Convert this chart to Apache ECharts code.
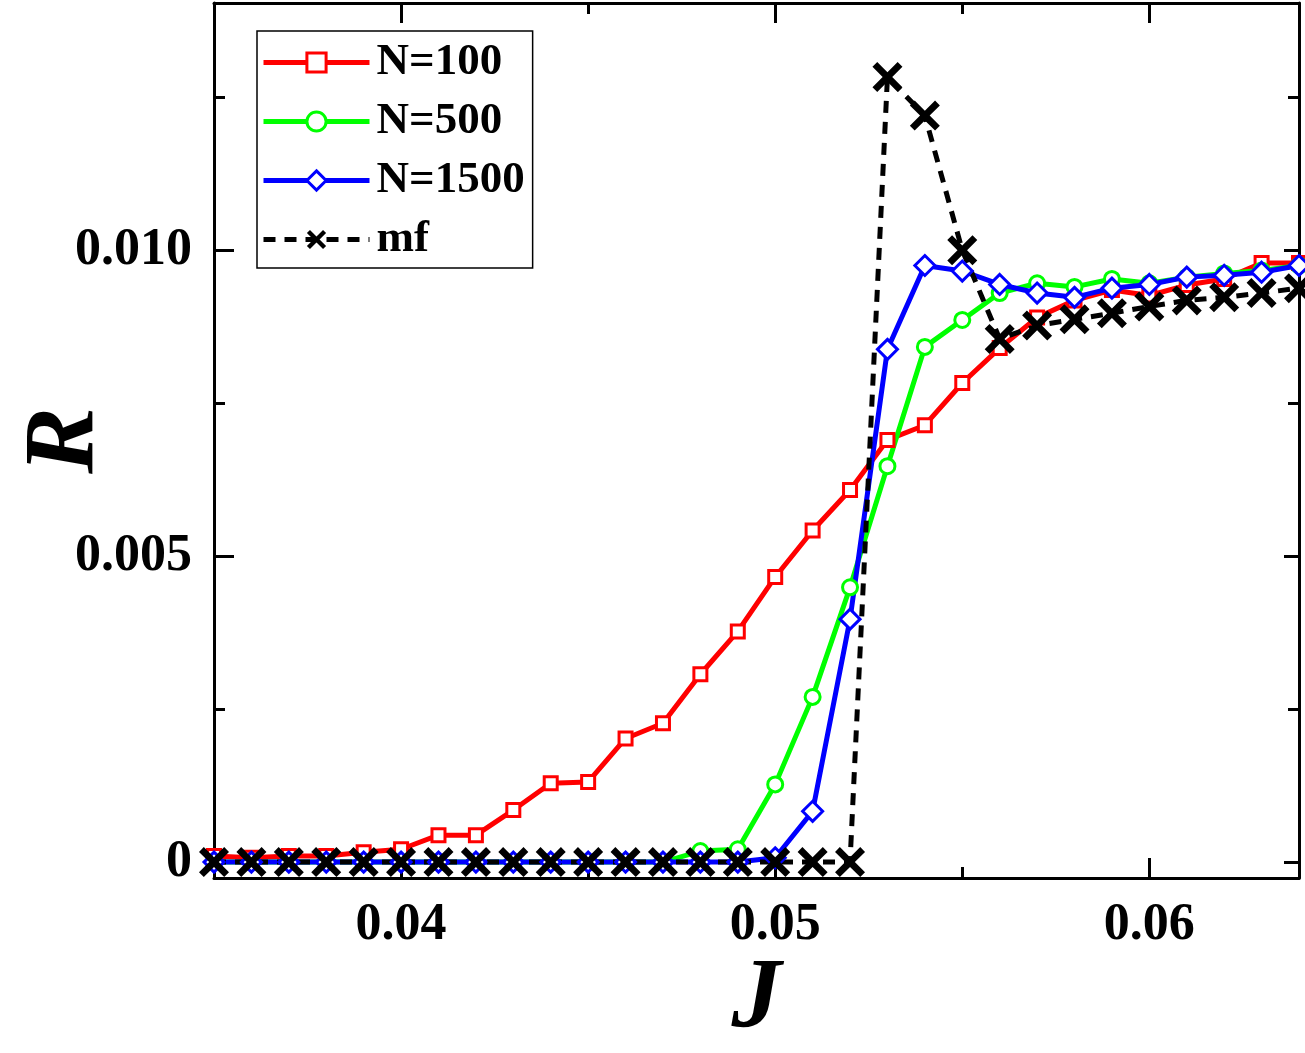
<!DOCTYPE html>
<html>
<head>
<meta charset="utf-8">
<script src="https://cdn.jsdelivr.net/npm/echarts@6/dist/echarts.min.js"></script>
<style>
  html, body { margin: 0; padding: 0; background: #fff; }
  #chart { width: 1305px; height: 1053px; }
</style>
</head>
<body>
<div id="chart"></div>
<script>
// J values (x), one point every 0.001
var jValues = [0.035, 0.036, 0.037, 0.038, 0.039, 0.040, 0.041, 0.042, 0.043, 0.044,
               0.045, 0.046, 0.047, 0.048, 0.049, 0.050, 0.051, 0.052, 0.053, 0.054,
               0.055, 0.056, 0.057, 0.058, 0.059, 0.060, 0.061, 0.062, 0.063, 0.064];

var rN100 = [0.0001, 0.00007, 0.0001, 0.0001, 0.00016, 0.00021, 0.00044, 0.00044, 0.00085, 0.00129,
             0.00131, 0.00202, 0.00227, 0.00307, 0.00377, 0.00466, 0.00542, 0.00608, 0.0069, 0.00714,
             0.00783, 0.0084, 0.0089, 0.00918, 0.00935, 0.00926, 0.00943, 0.00953, 0.00979, 0.00979];

var rN500 = [0, 0, 0, 0, 0, 0, 0, 0, 0, 0,
             0, 0, 0, 0.00018, 0.00021, 0.00127, 0.0027, 0.00449, 0.00647, 0.00842,
             0.00886, 0.0093, 0.00946, 0.0094, 0.00953, 0.00946, 0.00956, 0.00962, 0.00967, 0.00975];

var rN1500 = [0, 0, 0, 0, 0, 0, 0, 0, 0, 0,
              0, 0, 0, 0, 0, 0.00007, 0.00083, 0.00397, 0.00838, 0.00975,
              0.00966, 0.00944, 0.0093, 0.00923, 0.00938, 0.00944, 0.00956, 0.00959, 0.00964, 0.00975];

var rMf = [0, 0, 0, 0, 0, 0, 0, 0, 0, 0,
           0, 0, 0, 0, 0, 0, 0, 0, 0.01283, 0.0122,
           0.0100, 0.00855, 0.00877, 0.00887, 0.00897, 0.00908, 0.00918, 0.00923, 0.0093, 0.00938];

// tick positions
var xMajorTicks = [0.04, 0.05, 0.06];
var xMinorTicks = [0.045, 0.055];
var yMajorTicks = [0, 0.005, 0.010];
var yMinorTicks = [0.0025, 0.0075, 0.0125];
var yTickLabels = ['0', '0.005', '0.010'];

function pairs(ys) {
  return jValues.map(function (x, i) { return [x, ys[i]]; });
}

var font = 'Liberation Serif, Times New Roman, serif';
var xMin = 0.035, xMax = 0.064;
var yMin = -0.00026, yMax = 0.01404;

// thick cross marker (filled outline)
var crossPath = 'path://M0,1.6L1.6,0L5,3.4L8.4,0L10,1.6L6.6,5L10,8.4L8.4,10L5,6.6L1.6,10L0,8.4L3.4,5Z';

// one axis helper: main = with line & labels, others only ticks
function xAx(pos, ticks, len, withLine, withLabel) {
  return {
    type: 'value', position: pos, min: xMin, max: xMax,
    nameMoveOverlap: false,
    axisLine: { show: withLine, onZero: false, lineStyle: { color: '#000', width: 3 } },
    axisTick: { show: true, inside: true, length: len, customValues: ticks,
                lineStyle: { color: '#000', width: 3 } },
    axisLabel: { show: withLabel, customValues: xMajorTicks, margin: 22,
                 fontFamily: font, fontWeight: 'bold', fontSize: 52, color: '#000',
                 formatter: function (v) { return v.toFixed(2); } },
    splitLine: { show: false }
  };
}
function yAx(pos, ticks, len, withLine, withLabel) {
  return {
    type: 'value', position: pos, min: yMin, max: yMax,
    nameMoveOverlap: false,
    axisLine: { show: withLine, onZero: false, lineStyle: { color: '#000', width: 3 } },
    axisTick: { show: true, inside: true, length: len, customValues: ticks,
                lineStyle: { color: '#000', width: 3 } },
    axisLabel: { show: withLabel, customValues: yMajorTicks, margin: 22,
                 fontFamily: font, fontWeight: 'bold', fontSize: 52, color: '#000',
                 formatter: function (v) { return yTickLabels[yMajorTicks.indexOf(+v.toFixed(4))]; } },
    splitLine: { show: false }
  };
}

var xAxes = [
  xAx('bottom', xMajorTicks, 20, true, true),
  xAx('bottom', xMinorTicks, 11, false, false),
  xAx('top', xMajorTicks, 20, true, false),
  xAx('top', xMinorTicks, 11, false, false)
];
xAxes[0].name = 'J';
xAxes[0].nameLocation = 'middle';
xAxes[0].nameGap = 72;
xAxes[0].nameTextStyle = { fontFamily: font, fontWeight: 'bold', fontStyle: 'italic', fontSize: 100, color: '#000' };

var yAxes = [
  yAx('left', yMajorTicks, 20, true, true),
  yAx('left', yMinorTicks, 11, false, false),
  yAx('right', yMajorTicks, 15, true, false),
  yAx('right', yMinorTicks, 11, false, false)
];
yAxes[0].name = 'R';
yAxes[0].nameLocation = 'middle';
yAxes[0].nameGap = 98;
yAxes[0].nameTextStyle = { fontFamily: font, fontWeight: 'bold', fontStyle: 'italic', fontSize: 100, color: '#000' };

var chart = echarts.init(document.getElementById('chart'), null, { renderer: 'canvas' });

var option = {
  backgroundColor: '#fff',
  animation: false,
  grid: { left: 214, right: 6, top: 3, bottom: 175, containLabel: false, outerBoundsMode: 'none' },
  legend: {
    orient: 'vertical',
    left: 257, top: 31,
    padding: [9, 8, 6, 4],
    itemWidth: 106, itemHeight: 24, itemGap: 14,
    borderColor: '#000', borderWidth: 1.5,
    lineStyle: { width: 5 },
    textStyle: { fontFamily: font, fontWeight: 'bold', fontSize: 45, color: '#000', lineHeight: 45, padding: [0, 0, 0, 2] },
    data: [
      { name: 'N=100', itemStyle: { borderWidth: 3 } },
      { name: 'N=500', itemStyle: { borderWidth: 3 } },
      { name: 'N=1500', itemStyle: { borderWidth: 3 } },
      { name: 'mf' }
    ]
  },
  xAxis: xAxes,
  yAxis: yAxes,
  series: [
    {
      name: 'N=100', type: 'line', data: pairs(rN100),
      symbol: 'rect', symbolSize: 13,
      lineStyle: { color: '#ff0000', width: 5 },
      itemStyle: { color: '#fff', borderColor: '#ff0000', borderWidth: 3 }
    },
    {
      name: 'N=500', type: 'line', data: pairs(rN500),
      symbol: 'circle', symbolSize: 15,
      lineStyle: { color: '#00ff00', width: 5 },
      itemStyle: { color: '#fff', borderColor: '#00ff00', borderWidth: 3 }
    },
    {
      name: 'N=1500', type: 'line', data: pairs(rN1500),
      symbol: 'diamond', symbolSize: 20,
      lineStyle: { color: '#0000ff', width: 5 },
      itemStyle: { color: '#fff', borderColor: '#0000ff', borderWidth: 3 }
    },
    {
      name: 'mf', type: 'line', data: pairs(rMf),
      symbol: crossPath, symbolSize: 30,
      lineStyle: { color: '#000', width: 5, type: [12, 9] },
      itemStyle: { color: '#000', borderWidth: 0 }
    }
  ]
};

chart.setOption(option);
</script>
</body>
</html>
